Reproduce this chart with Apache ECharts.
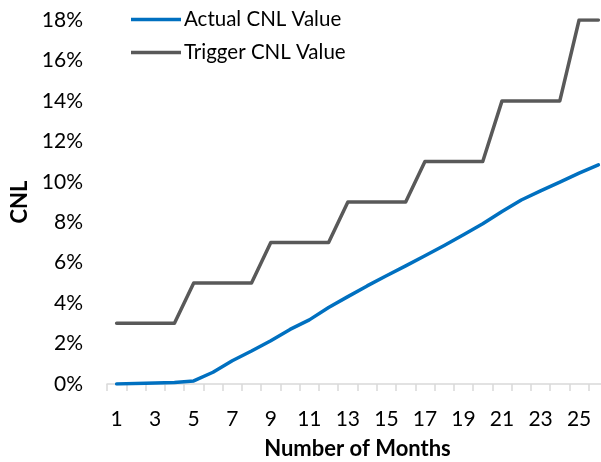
<!DOCTYPE html>
<html>
<head>
<meta charset="utf-8">
<script src="https://cdn.jsdelivr.net/npm/echarts@6/dist/echarts.min.js"></script>
<style>
  html, body { margin: 0; padding: 0; background: #fff; }
  #chart { width: 601px; height: 462px; }
</style>
</head>
<body>
<div id="chart"></div>
<script>
// Months since issuance
const months = [1,2,3,4,5,6,7,8,9,10,11,12,13,14,15,16,17,18,19,20,21,22,23,24,25,26];
// Cumulative net loss, percent
const actualCNL = [0.0,0.02,0.05,0.07,0.15,0.58,1.15,1.63,2.14,2.7,3.17,3.78,4.32,4.85,5.35,5.84,6.34,6.85,7.38,7.92,8.53,9.1,9.55,9.98,10.43,10.84];
// Trigger thresholds, percent
const triggerCNL = [3,3,3,3,5,5,5,5,7,7,7,7,9,9,9,9,11,11,11,11,14,14,14,14,18,18];
const yTicks = { min: 0, max: 18, step: 2 };

const FONT = 'Lato';
const chart = echarts.init(document.getElementById('chart'), null, { renderer: 'canvas' });

chart.setOption({
  animation: false,
  backgroundColor: '#ffffff',
  textStyle: { fontFamily: FONT },
  grid: { left: 107, right: -7, top: 20, bottom: 78, containLabel: false, outerBoundsMode: 'none' },
  legend: {
    orient: 'vertical',
    left: 126,
    top: 4,
    icon: 'rect',
    itemWidth: 50,
    itemHeight: 3.5,
    itemGap: 12,
    textStyle: { fontFamily: FONT, fontSize: 20.5, color: '#000', padding: [0, 0, 0, -2] },
    data: ['Actual CNL Value', 'Trigger CNL Value']
  },
  xAxis: {
    type: 'category',
    data: months,
    boundaryGap: true,
    name: 'Number of Months',
    nameLocation: 'middle',
    nameGap: 54,
    nameMoveOverlap: false,
    nameTextStyle: { fontFamily: FONT, fontSize: 22, fontWeight: 'bold', color: '#000' },
    axisLine: { lineStyle: { color: '#d9d9d9', width: 1.5 } },
    axisTick: { show: true, interval: 0, length: 7, lineStyle: { color: '#d9d9d9', width: 1.5 } },
    axisLabel: { interval: 1, margin: 35, fontFamily: FONT, fontSize: 21, color: '#000', verticalAlign: 'middle' },
    splitLine: { show: false }
  },
  yAxis: {
    type: 'value',
    min: yTicks.min,
    max: yTicks.max,
    interval: yTicks.step,
    name: 'CNL',
    nameLocation: 'middle',
    nameGap: 76,
    nameRotate: 90,
    nameMoveOverlap: false,
    nameTextStyle: { fontFamily: FONT, fontSize: 22, fontWeight: 'bold', color: '#000' },
    axisLine: { show: false },
    axisTick: { show: false },
    axisLabel: { margin: 24, fontFamily: FONT, fontSize: 21, color: '#000', formatter: '{value}%' },
    splitLine: { show: false }
  },
  series: [
    {
      name: 'Actual CNL Value',
      type: 'line',
      data: actualCNL,
      symbol: 'none',
      lineStyle: { color: '#0070c0', width: 3.5, cap: 'round', join: 'round' },
      itemStyle: { color: '#0070c0' }
    },
    {
      name: 'Trigger CNL Value',
      type: 'line',
      data: triggerCNL,
      symbol: 'none',
      lineStyle: { color: '#595959', width: 3.5, cap: 'round', join: 'round' },
      itemStyle: { color: '#595959' }
    }
  ]
});
</script>
</body>
</html>
